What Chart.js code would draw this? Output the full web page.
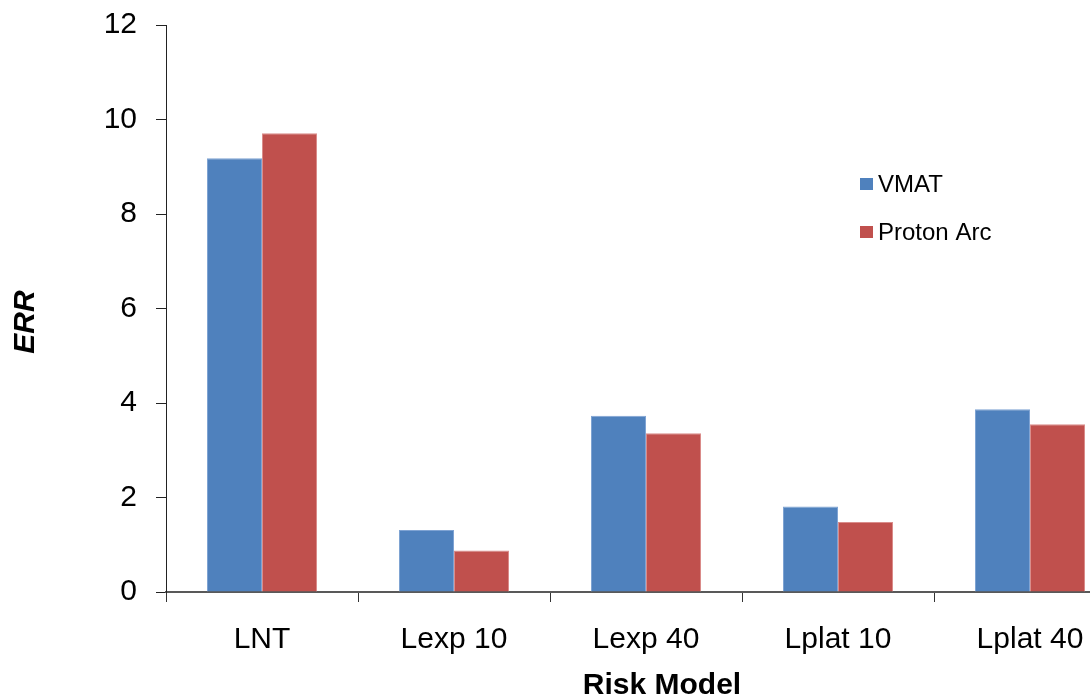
<!DOCTYPE html>
<html>
<head>
<meta charset="utf-8">
<title>ERR by risk model</title>
<script src="https://cdn.jsdelivr.net/npm/chart.js@4.4.1/dist/chart.umd.min.js"></script>
<style>
  html, body { margin: 0; padding: 0; background: #fff; overflow: hidden; }
  #wrap { width: 1130px; height: 696px; }
</style>
</head>
<body>
<div id="wrap"><canvas id="c" width="1130" height="696"></canvas></div>
<script>
// Excess relative risk per risk model
const categories = ["LNT", "Lexp 10", "Lexp 40", "Lplat 10", "Lplat 40"];
const seriesNames = ["VMAT", "Proton Arc"];
const vmatValues = [9.18, 1.31, 3.73, 1.81, 3.87];
const protonArcValues = [9.71, 0.88, 3.36, 1.48, 3.55];
const yTicks = [0, 2, 4, 6, 8, 10, 12];
const xTitle = "Risk Model";
const yTitle = "ERR";

const FONT = "'Liberation Sans', Arial, sans-serif";

// Legend drawn inside the plot area, right side
const innerLegend = {
  id: 'innerLegend',
  afterDraw(chart) {
    const ctx = chart.ctx;
    ctx.save();
    ctx.font = "24px " + FONT;
    ctx.textBaseline = 'middle';
    ctx.textAlign = 'left';
    chart.data.datasets.forEach((ds, i) => {
      const cy = 184 + i * 48;
      ctx.fillStyle = ds.backgroundColor;
      ctx.fillRect(860, cy - 6, 13, 12);
      ctx.fillStyle = '#000';
      ctx.fillText(ds.label, 878, cy + 1);
    });
    ctx.restore();
  }
};

// Axis titles
const axisTitles = {
  id: 'axisTitles',
  afterDraw(chart) {
    const ctx = chart.ctx;
    ctx.save();
    ctx.fillStyle = '#000';
    ctx.textAlign = 'center';
    ctx.font = "bold 30px " + FONT;
    ctx.textBaseline = 'alphabetic';
    ctx.fillText(xTitle, 662, 694);
    ctx.translate(25, 322);
    ctx.rotate(-Math.PI / 2);
    ctx.font = "italic bold 30px " + FONT;
    ctx.textBaseline = 'middle';
    ctx.fillText(yTitle, 0, 1);
    ctx.restore();
  }
};

new Chart(document.getElementById('c'), {
  type: 'bar',
  data: {
    labels: categories,
    datasets: [
      { label: seriesNames[0], data: vmatValues, backgroundColor: '#4F81BD', borderColor: '#7FA3D3', borderWidth: 1 },
      { label: seriesNames[1], data: protonArcValues, backgroundColor: '#C0504D', borderColor: '#DA8D8B', borderWidth: 1 }
    ]
  },
  options: {
    responsive: false,
    animation: false,
    devicePixelRatio: 1,
    layout: { padding: { left: 0, top: 25, right: 4, bottom: 0 } },
    datasets: { bar: { categoryPercentage: 0.573, barPercentage: 1.0 } },
    plugins: { legend: { display: false }, tooltip: { enabled: false } },
    scales: {
      x: {
        offset: true,
        grid: { offset: true, drawOnChartArea: false, drawTicks: true, tickLength: 10, color: '#333', lineWidth: 1 },
        border: { display: true, color: '#595959', width: 2 },
        ticks: { color: '#000', font: { family: FONT, size: 30 }, padding: 20 },
        afterFit(scale) { scale.height = 104; }
      },
      y: {
        min: 0,
        max: 12,
        afterBuildTicks(scale) { scale.ticks = yTicks.map(v => ({ value: v })); },
        grid: { drawOnChartArea: false, drawTicks: true, tickLength: 10, color: '#222', lineWidth: 1 },
        border: { display: true, color: '#222', width: 1 },
        ticks: { color: '#000', font: { family: FONT, size: 30 }, padding: 19 },
        afterFit(scale) {
          scale.width = 166;
          scale.paddingTop = 0;
          scale.paddingBottom = 0;
        }
      }
    }
  },
  plugins: [innerLegend, axisTitles]
});
</script>
</body>
</html>
